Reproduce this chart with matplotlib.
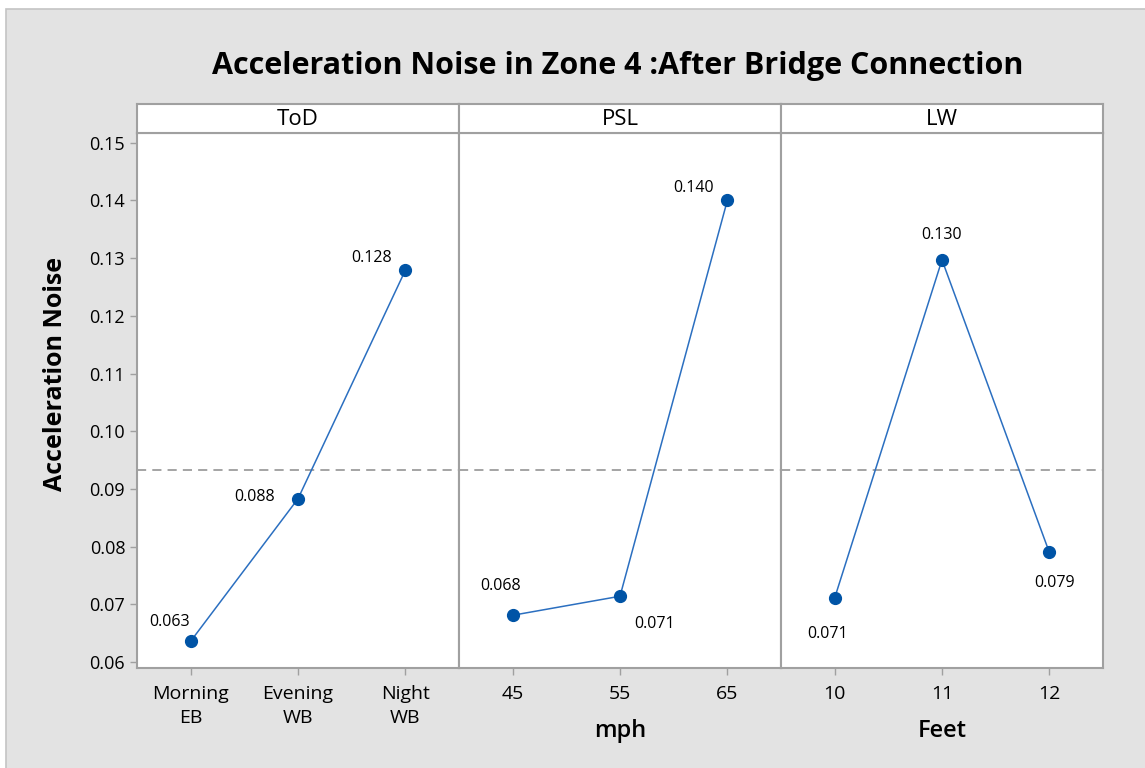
import matplotlib.pyplot as plt
import matplotlib.patches as patches

plt.rcParams['font.family'] = ['Open Sans', 'DejaVu Sans']

# data
panels = ['ToD', 'PSL', 'LW']
levels = [['Morning\nEB', 'Evening\nWB', 'Night\nWB'], ['45', '55', '65'], ['10', '11', '12']]
xlabels = ['', 'mph', 'Feet']
means = [[0.0636, 0.0883, 0.1279],
         [0.0681, 0.0714, 0.1400],
         [0.0711, 0.1297, 0.0790]]
labels = [['0.063', '0.088', '0.128'],
          ['0.068', '0.071', '0.140'],
          ['0.071', '0.130', '0.079']]
grand_mean = 0.0933
yticks = [0.06, 0.07, 0.08, 0.09, 0.10, 0.11, 0.12, 0.13, 0.14, 0.15]

# label offsets (points) for each point
offsets = [[(-15, 14), (-31, 1), (-24, 9)],
           [(-9, 21), (25, -20), (-24, 9)],
           [(-5, -26), (0, 18), (4, -22)],
           ]

W, H = 1145, 768
fig = plt.figure(figsize=(W / 100, H / 100), dpi=100, facecolor='white')
fig.patches.append(patches.Rectangle((6 / W, -0.05), 1.1, 1.05 - 9 / H, transform=fig.transFigure,
                                     facecolor='#e3e3e3', edgecolor='#c4c4c4', lw=1.2, zorder=-10))

left, right = 137 / W, 1103 / W
bottom, top, strip_top = 1 - 668 / H, 1 - 133 / H, 1 - 104 / H
pw = (right - left) / 3
gray = '#a0a0a0'
mcol = '#0054a6'
lcol = '#2b6fc0'

axes = []
for i in range(3):
    ax = fig.add_axes([left + i * pw, bottom, pw, top - bottom])
    sax = fig.add_axes([left + i * pw, top, pw, strip_top - top])
    sax.set_xticks([]); sax.set_yticks([])
    for s in sax.spines.values():
        s.set_color(gray); s.set_linewidth(1.5)
    sax.text(0.5, 0.45, panels[i], ha='center', va='center', fontsize=16, transform=sax.transAxes)

    x = range(3)
    ax.plot(x, means[i], color=lcol, lw=1.1, zorder=3)
    ax.plot(x, means[i], 'o', color=mcol, ms=8.5, zorder=4)
    ax.axhline(grand_mean, color='#8c8c8c', ls=(0, (6, 4)), lw=1.1, zorder=2)
    for j in range(3):
        ax.annotate(labels[i][j], (j, means[i][j]), xytext=offsets[i][j], textcoords='offset points',
                    ha='center', va='center', fontsize=11.5)
    ax.set_xlim(-0.5, 2.5)
    ax.set_ylim(0.05896, 0.1517)
    ax.set_xticks(list(x))
    ax.set_xticklabels(levels[i], fontsize=14, linespacing=1.45)
    ax.set_yticks(yticks)
    if i == 0:
        ax.set_yticklabels(['%.2f' % v for v in yticks], fontsize=13)
        ax.set_ylabel('Acceleration Noise', fontsize=18, fontweight='bold')
        ax.yaxis.set_label_coords(-0.215, 0.55)
    else:
        ax.tick_params(axis='y', left=False, labelleft=False)
    ax.set_xlabel(xlabels[i], fontsize=17, fontweight='semibold', labelpad=12)
    ax.tick_params(colors=gray, labelcolor='black', length=5, width=1)
    ax.tick_params(axis='x', pad=7)
    for s in ax.spines.values():
        s.set_color(gray); s.set_linewidth(1.5)
    axes.append(ax)

fig.text(618 / W, 1 - 66 / H, 'Acceleration Noise in Zone 4 :After Bridge Connection',
         ha='center', va='center', fontsize=22, fontweight='bold')

fig.savefig('out.png', dpi=100, facecolor=fig.get_facecolor())
